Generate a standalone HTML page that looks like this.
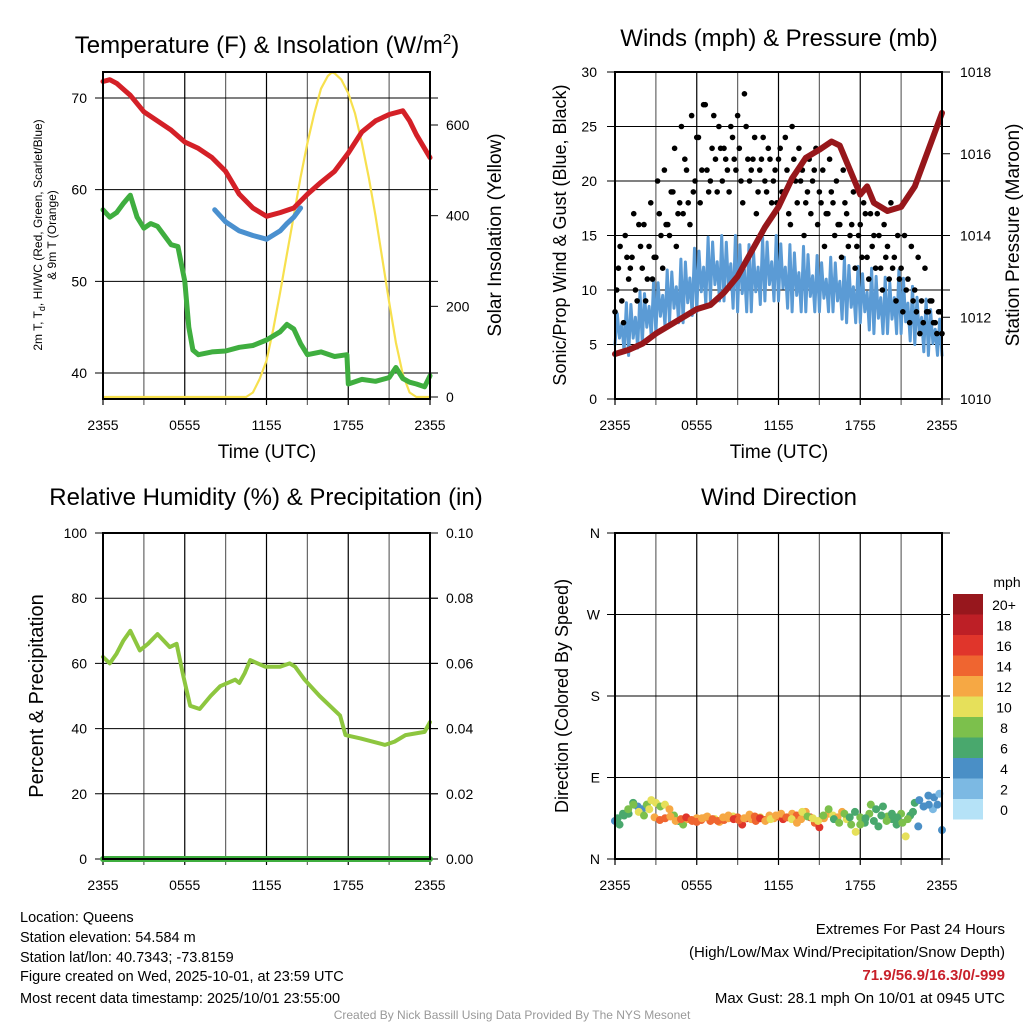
<!DOCTYPE html>
<html><head><meta charset="utf-8"><style>
html,body{margin:0;padding:0;background:#fff;}
svg{display:block;font-family:"Liberation Sans",Arial,sans-serif;}
</style></head><body>
<svg id="fig" width="1024" height="1024" viewBox="0 0 1024 1024">
<rect width="1024" height="1024" fill="#fff"/>
<text x="267" y="53" font-size="24" text-anchor="middle">Temperature (F) &amp; Insolation (W/m<tspan dy="-9" font-size="15">2</tspan><tspan dy="9">)</tspan></text>
<text x="779" y="46" font-size="24" text-anchor="middle">Winds (mph) &amp; Pressure (mb)</text>
<text x="266" y="505" font-size="24" text-anchor="middle">Relative Humidity (%) &amp; Precipitation (in)</text>
<text x="779" y="505" font-size="24" text-anchor="middle">Wind Direction</text>
<text transform="translate(42,235) rotate(-90)" font-size="12" text-anchor="middle">2m T, T<tspan dy="3" font-size="9">d</tspan><tspan dy="-3">, HI/WC (Red, Green, Scarlet/Blue)</tspan></text>
<text transform="translate(56,235) rotate(-90)" font-size="12" text-anchor="middle">&amp; 9m T (Orange)</text>
<text transform="translate(501,235) rotate(-90)" font-size="19" text-anchor="middle">Solar Insolation (Yellow)</text>
<text x="267" y="458" font-size="19" text-anchor="middle">Time (UTC)</text>
<text transform="translate(566,235) rotate(-90)" font-size="18" text-anchor="middle">Sonic/Prop Wind &amp; Gust (Blue, Black)</text>
<text transform="translate(1019,235) rotate(-90)" font-size="19" text-anchor="middle">Station Pressure (Maroon)</text>
<text x="779" y="458" font-size="19" text-anchor="middle">Time (UTC)</text>
<text transform="translate(43,696) rotate(-90)" font-size="20" text-anchor="middle">Percent &amp; Precipitation</text>
<text transform="translate(568,696) rotate(-90)" font-size="18" text-anchor="middle">Direction (Colored By Speed)</text>
<g id="legend">
<text x="1007" y="587" font-size="14" text-anchor="middle">mph</text>
</g>
<g font-size="14.5">
<text x="20" y="922">Location: Queens</text>
<text x="20" y="942">Station elevation: 54.584 m</text>
<text x="20" y="962">Station lat/lon: 40.7343; -73.8159</text>
<text x="20" y="981">Figure created on Wed, 2025-10-01, at 23:59 UTC</text>
<text x="20" y="1003">Most recent data timestamp: 2025/10/01 23:55:00</text>
</g>
<g font-size="15" text-anchor="end">
<text x="1005" y="934">Extremes For Past 24 Hours</text>
<text x="1005" y="957">(High/Low/Max Wind/Precipitation/Snow Depth)</text>
<text x="1005" y="980" fill="#c8202a" font-weight="bold">71.9/56.9/16.3/0/-999</text>
<text x="1005" y="1003">Max Gust: 28.1 mph On 10/01 at 0945 UTC</text>
</g>
<text x="512" y="1019" font-size="12" fill="#999" text-anchor="middle">Created By Nick Bassill Using Data Provided By The NYS Mesonet</text>
<g id="plots"></g>
</svg>
<script>
// ---------- data ----------
const timeLabels=['2355','0555','1155','1755','2355'];
const tempTicks=[40,50,60,70];
const solarTicks=[0,200,400,600];
const windTicks=[0,5,10,15,20,25,30];
const presTicks=[1010,1012,1014,1016,1018];
const rhTicks=[0,20,40,60,80,100];
const precipTicks=['0.00','0.02','0.04','0.06','0.08','0.10'];
const dirTicks=['N','E','S','W','N'];

const tempHours=[0,0.5,1,2,3,4,5,6,7,8,9,10,11,12,13,14,15,16,17,18,19,20,21,22,22.5,23,24];
const tempValues=[71.8,72,71.6,70.3,68.5,67.5,66.5,65.2,64.5,63.5,62,59.5,58,57.1,57.5,58,59.5,60.8,62,64,66.3,67.5,68.2,68.6,67.5,66,63.5];
const dewHours=[0,0.5,1,1.5,2,2.5,3,3.5,4,4.5,5,5.5,6,6.3,6.6,7,8,9,10,11,12,13,13.5,14,14.5,15,16,17,17.9,18,19,20,21,21.5,22,22.5,23,23.6,24];
const dewValues=[57.8,57,57.5,58.5,59.4,57,55.8,56.3,56,55,54,53.8,50,45,42.5,42,42.3,42.4,42.8,43,43.6,44.5,45.3,44.8,43.2,42,42.3,41.8,42,38.8,39.3,39.1,39.5,40.6,39.4,39,38.8,38.5,39.7];
const hiHours=[8.2,9,10,11,11.5,12,13,13.5,14,14.5];
const hiValues=[57.8,56.5,55.5,55,54.8,54.6,55.5,56.3,57,58];
const solarHours=[0,10.5,11,11.5,12,12.5,13,13.5,14,14.5,15,15.5,16,16.5,16.8,17,17.5,18,18.5,19,19.5,20,20.5,21,21.5,22,22.5,23,24];
const solarValues=[0,0,10,40,80,150,230,315,400,485,560,625,680,708,716,714,700,670,625,560,485,400,305,210,120,50,10,0,0];

const presHours=[0,1,2,3,4,5,6,7,8,9,10,11,12,13,14,15,15.9,16.5,17,18,18.5,19,20,21,22,23,24];
const presValues=[1011.1,1011.2,1011.35,1011.6,1011.8,1012.0,1012.2,1012.3,1012.6,1013.0,1013.6,1014.2,1014.7,1015.4,1015.9,1016.1,1016.3,1016.2,1015.8,1015.0,1015.2,1014.8,1014.6,1014.7,1015.2,1016.1,1017.0];
const windLow=[5,4,5,6,7,7,8,9,9,8,8,9,9,8,8,8,8,7,7,6,6,6,5,4,4];
const windHigh=[8,9,10,11,12,13,14,15,15,15,14,15,15,14,14,13,13,13,12,12,11,12,10,9,7];
const gustValues=[8,12,9,15,11,13,10,16,12,9,14,11,13,17,12,16,15,19,14,18,17,21,16,19,24,18,27,21,20,26,19,23,23,21,25,22,26,20,28,22,21,24,19,22,20,23,18,21,22,19,24,17,25,20,23,21,18,22,20,23,19,21,17,22,18,20,16,21,17,15,19,14,16,18,13,17,15,17,12,16,14,18,13,15,12,15,11,14,10,13,9,12,8,9,7,8,6];
const gustValues2=[10,14,7,13,12,17,9,14,16,11,18,13,20,15,21,16,19,23,17,25,22,18,26,20,24,21,27,19,23,22,25,20,22,19,24,21,23,18,25,20,22,17,21,24,19,22,20,18,23,19,21,16,22,18,20,15,19,17,21,16,18,14,17,19,15,16,13,18,14,16,12,15,13,17,11,14,12,15,10,13,11,12,9,11,8,10,7,9,8,6,7,8,9,7,6,8];

const rhHours=[0,0.5,1,1.5,2,2.7,3.3,4,4.9,5.4,5.9,6.4,7.1,7.9,8.6,9.7,10,10.4,10.8,11.9,13,13.7,14.1,14.8,15.9,17.4,17.8,18.9,20.7,21.4,22.2,23.6,24];
const rhValues=[62,60,63,67,70,64,66,69,65,66,56,47,46,50,53,55,54,57,61,59,59,60,59,55,50,44,38,37,35,36,38,39,42];
const precipHours=[0,24];
const precipValues=[0,0];

const dirValues=[42,38,48,50,62,58,55,60,65,62,58,60,55,48,42,38,44,42,45,43,46,42,44,41,43,45,47,46,38,45,44,42,46,43,48,45,47,44,46,50,48,44,52,46,40,35,45,50,48,46,52,44,38,30,46,40,50,42,36,58,47,44,38,50,25,48,62,65,58,70,55,60,32];
const dirSpeeds=[5,6,7,7,6,5,4,8,10,10,8,10,12,9,7,8,12,14,13,15,12,14,10,13,15,12,11,14,17,16,12,14,11,15,13,12,14,16,13,13,15,12,12,17,14,16,13,12,11,12,13,10,9,10,8,7,8,7,6,7,8,6,7,8,10,6,7,4,5,4,3,4,4];
const dirValues2=[45,50,55,60,52,48,55,46,43,45,47,42,44,46,43,41,45,47,44,42,46,48,44,43,45,49,47,45,42,44,48,50,46,44,40,52,47,45,42,48,55,44,40,50,46,52,38,45,60,55,48,42,50,46,40,44,52,36,58,60,68,72];
const dirSpeeds2=[6,7,8,9,10,9,11,13,14,15,12,13,15,16,14,15,12,13,14,15,12,13,16,14,12,13,15,16,12,11,12,13,14,11,12,10,9,11,10,9,8,7,8,9,7,6,8,7,8,6,7,8,6,7,9,8,6,5,4,4,5,3];
const speedBins=['0','2','4','6','8','10','12','14','16','18','20+'];
const speedColors=['#b5e2f7','#7cb9e3','#4a8fc6','#49a86d','#7cc04c','#e6e05a','#f6a844','#ef6530','#e0352b','#bd1f26','#97171d'];

// ---------- helpers ----------
const NS='http://www.w3.org/2000/svg';
const root=document.getElementById('plots');
function mk(tag,attrs,parent){const e=document.createElementNS(NS,tag);for(const k in attrs)e.setAttribute(k,attrs[k]);(parent||root).appendChild(e);return e;}
function txt(s,attrs,parent){const e=mk('text',attrs,parent);e.textContent=s;return e;}
function lin(d0,d1,r0,r1){return v=>r0+(v-d0)*(r1-r0)/(d1-d0);}

function panel(name,x0,x1,y0,y1){
  const g=mk('g',{});
  
  
  const xs=lin(0,24,x0,x1);
  for(let h=0;h<=24;h+=3){
    const gl=mk('line',{x1:xs(h),x2:xs(h),y1:y0,y2:y1+6,stroke:(h%6===0)?'#000':'#666','stroke-width':1.2},g);
    
    
  }
  timeLabels.forEach((s,i)=>{
    const t=txt(s,{x:xs(i*6),y:y1+31,'font-size':14,'text-anchor':'middle'},g);
    
    
  });
  return {g,xs,x0,x1,y0,y1};
}
function hgrid(p,ys,values,labels,side,lx){
  values.forEach((v,i)=>{
    const y=ys(v);
    const l=mk('line',{x1:p.x0-8,x2:p.x1+8,y1:y,y2:y,stroke:'#000','stroke-width':1},p.g);
    
    
    const t=txt(labels[i],{x:lx,y:y+5,'font-size':14,'text-anchor':side==='left'?'end':'start'},p.g);
    
    
  });
}
function ticksOnly(p,ys,values,labels,side,lx){
  values.forEach((v,i)=>{
    const y=ys(v);
    const x=side==='left'?p.x0:p.x1;
    const l=mk('line',{x1:x,x2:side==='left'?x-8:x+8,y1:y,y2:y,stroke:'#000','stroke-width':1},p.g);
    
    
    const t=txt(labels[i],{x:lx,y:y+5,'font-size':14,'text-anchor':side==='left'?'end':'start'},p.g);
    
    
  });
}
function frame(p){
  const r=mk('rect',{x:p.x0,y:p.y0,width:p.x1-p.x0,height:p.y1-p.y0,fill:'none',stroke:'#000','stroke-width':2},p.g);
  
  
}
function path(p,xs,ys,hours,vals,color,w,name){
  const d=hours.map((h,i)=>(i?'L':'M')+xs(h).toFixed(1)+','+ys(vals[i]).toFixed(1)).join('');
  const e=mk('path',{d,fill:'none',stroke:color,'stroke-width':w,'stroke-linejoin':'round','stroke-linecap':'round'},p.g);
  
  
  return e;
}

// ---------- panel 1 ----------
const p1=panel('temperature-panel',103,430,72,399);
const tY=lin(40,70,373,98);
const sY=lin(0,600,397,125);
hgrid(p1,tY,tempTicks,tempTicks.map(String),'left',87);
ticksOnly(p1,sY,solarTicks,solarTicks.map(String),'right',446);
path(p1,p1.xs,sY,solarHours,solarValues,'#f7e04e',2.2,'solar-insolation-line');
path(p1,p1.xs,tY,tempHours,tempValues,'#d42027',5,'temperature-line');
path(p1,p1.xs,tY,dewHours,dewValues,'#3fae3f',5,'dewpoint-line');
path(p1,p1.xs,tY,hiHours,hiValues,'#4a90cf',5,'heat-index-line');
frame(p1);

// ---------- panel 2 ----------
const p2=panel('wind-pressure-panel',615,942,72,399);
const wY=lin(0,30,399,72);
const pY=lin(1010,1018,399,72);
hgrid(p2,wY,windTicks,windTicks.map(String),'left',597);
ticksOnly(p2,pY,presTicks,presTicks.map(String),'right',960);
{
  const hrs=[],vals=[];
  const steps=[0,0.3,0.55,0.8,0.9];
  for(let i=0;i<24;i++){
    for(let k=0;k<6;k++){
      const f=k/6;
      const lo=windLow[i]+(windLow[i+1]-windLow[i])*f;
      const hi=windHigh[i]+(windHigh[i+1]-windHigh[i])*f;
      const span=hi-lo;
      hrs.push(i+f);
      vals.push(k%2 ? lo+span*(k===1?0.9:k===3?0.6:1) : lo+span*(k===2?0.25:0));
    }
  }
  hrs.push(24);vals.push(windLow[24]);
  path(p2,p2.xs,wY,hrs,vals,'#5b9bd5',3,'wind-speed-line');
}
gustValues.forEach((v,i)=>{
  const c=mk('circle',{cx:p2.xs(i*24/(gustValues.length-1)),cy:wY(v),r:2.8,fill:'#000'},p2.g);
  
  
});
gustValues2.forEach((v,i)=>{
  const c=mk('circle',{cx:p2.xs((i+0.5)*24/gustValues2.length),cy:wY(v),r:2.8,fill:'#000'},p2.g);
  
  
});
path(p2,p2.xs,pY,presHours,presValues,'#97171b',6,'pressure-line');
frame(p2);

// ---------- panel 3 ----------
const p3=panel('humidity-panel',103,430,533,859);
const rY=lin(0,100,859,533);
const prY=lin(0,0.1,859,533);
hgrid(p3,rY,rhTicks,rhTicks.map(String),'left',87);
ticksOnly(p3,prY,precipTicks.map(Number),precipTicks,'right',446);
path(p3,p3.xs,rY,rhHours,rhValues,'#8dc63f',4,'humidity-line');
path(p3,p3.xs,prY,precipHours,precipValues,'#3fae3f',6,'precipitation-line');
frame(p3);

// ---------- panel 4 ----------
const p4=panel('direction-panel',615,942,533,859);
const dY=lin(0,360,859,533);
hgrid(p4,dY,[0,90,180,270,360],dirTicks,'left',600);
dirValues.forEach((v,i)=>{
  const bin=Math.min(10,Math.floor(dirSpeeds[i]/2));
  const c=mk('circle',{cx:p4.xs(i*24/(dirValues.length-1)),cy:dY(v),r:4,fill:speedColors[bin]},p4.g);
  
  
});
dirValues2.forEach((v,i)=>{
  const bin=Math.min(10,Math.floor(dirSpeeds2[i]/2));
  const c=mk('circle',{cx:p4.xs((i+0.5)*24/dirValues2.length),cy:dY(v),r:4,fill:speedColors[bin]},p4.g);
  
  
});
frame(p4);

// ---------- legend ----------
const lg=document.getElementById('legend');
speedBins.forEach((s,i)=>{
  const y=594+(10-i)*20.5;
  const r=mk('rect',{x:953,y:y,width:30,height:20.5,fill:speedColors[i]},lg);
  
  
  const t=txt(s,{x:1004,y:y+16,'font-size':14,'text-anchor':'middle'},lg);
  
  
});
</script>
</body></html>
